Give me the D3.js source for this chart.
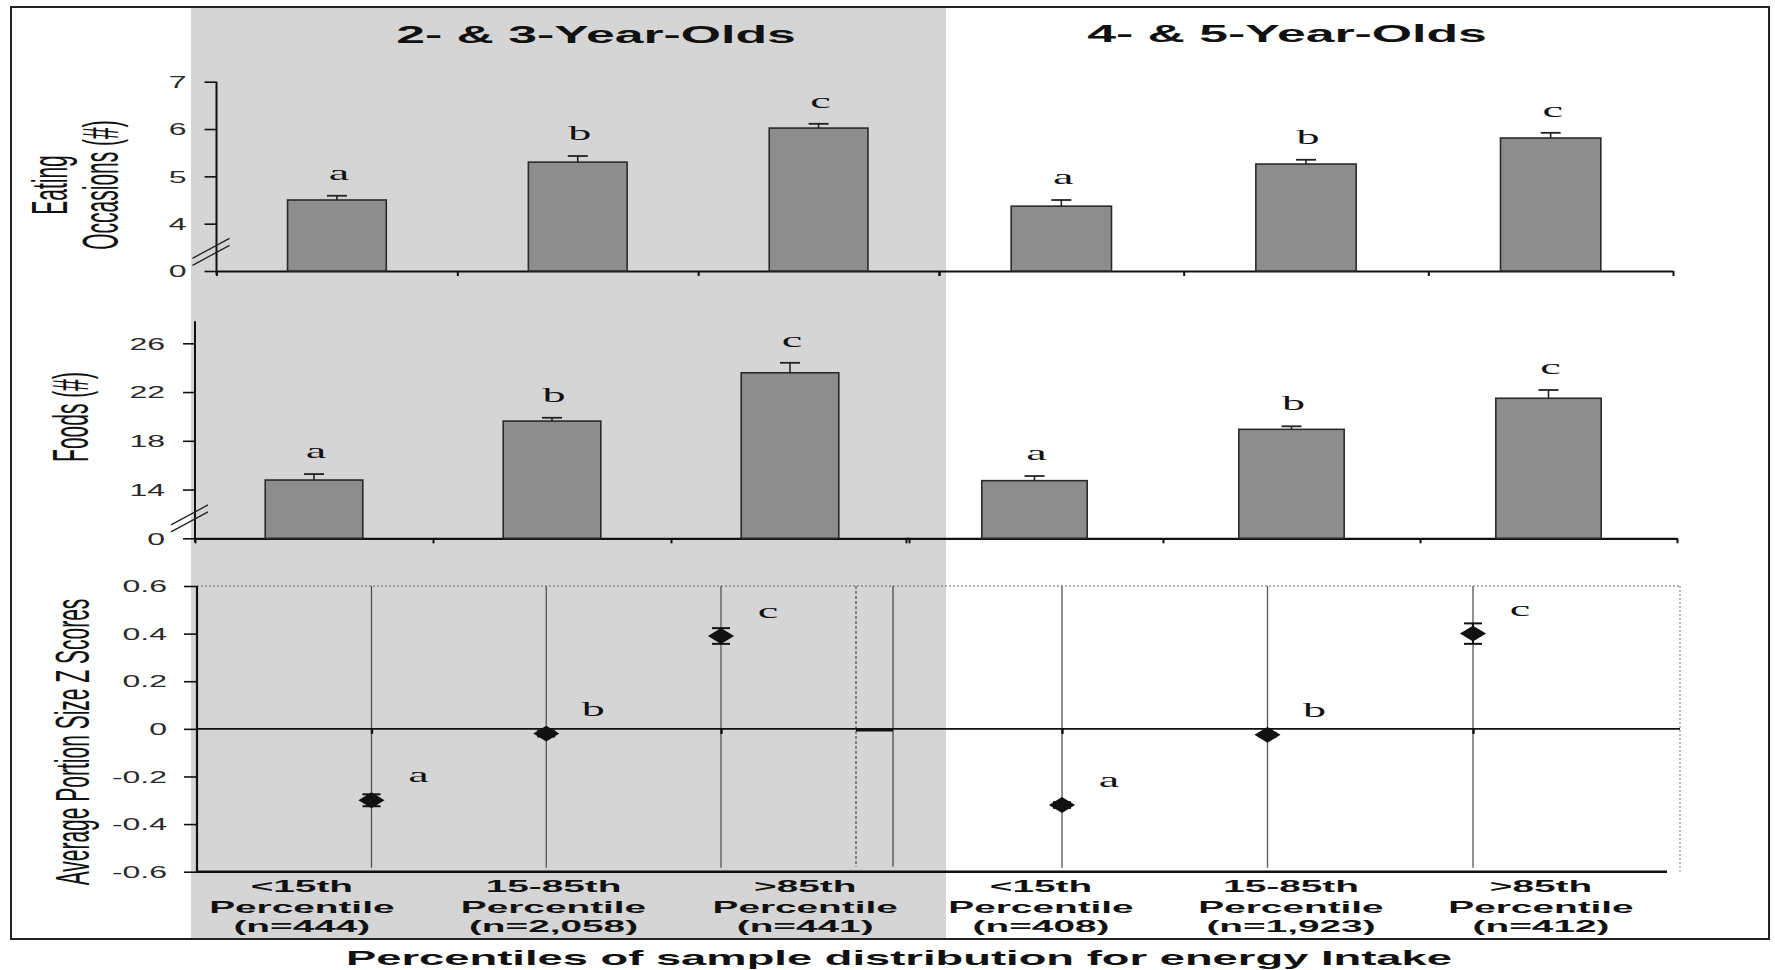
<!DOCTYPE html>
<html><head><meta charset="utf-8">
<script src="https://cdn.jsdelivr.net/npm/d3@7"></script>
<style>html,body{margin:0;padding:0;background:#fff;} svg{display:block}</style>
</head><body>
<svg id="chart" width="1775" height="970"></svg>
<script>
// ---------------- DATA ----------------
const groups = ["2- & 3-Year-Olds", "4- & 5-Year-Olds"];
const categories = ["<15th", "15-85th", ">85th"];
const catLine2 = "Percentile";
const nLabels23 = ["(n=444)", "(n=2,058)", "(n=441)"];
const nLabels45 = ["(n=408)", "(n=1,923)", "(n=412)"];
const sigLetters = ["a", "b", "c"];

const eating23 = [4.50, 5.30, 6.02];
const eatingErr23 = [0.09, 0.13, 0.09];
const eating45 = [4.37, 5.26, 5.81];
const eatingErr45 = [0.13, 0.09, 0.11];

const foods23 = [14.78, 19.62, 23.58];
const foodsErr23 = [0.49, 0.27, 0.82];
const foods45 = [14.73, 18.94, 21.49];
const foodsErr45 = [0.38, 0.25, 0.68];

const portion23 = [-0.30, -0.02, 0.39];
const portionErr23 = [0.025, 0.012, 0.033];
const portion45 = [-0.32, -0.025, 0.40];
const portionErr45 = [0.012, 0.008, 0.043];

const eatingTicks = [3, 4, 5, 6, 7];      // lowest tick is shown as "0" (broken axis)
const foodsTicks = [10, 14, 18, 22, 26];  // lowest tick is shown as "0" (broken axis)
const zTicks = [-0.6, -0.4, -0.2, 0, 0.2, 0.4, 0.6];
const yTitleEating = ["Eating", "Occasions (#)"];
const yTitleFoods = "Foods (#)";
const yTitleZ = "Average Portion Size Z Scores";
const xTitle = "Percentiles of sample distribution for energy Intake";

// ---------------- STYLE ----------------
const SANS = "'Liberation Sans', Arial, Helvetica, sans-serif";
const SERIF = "'Liberation Serif', 'Times New Roman', serif";
const INK = "#111";
const BAR_FILL = "#8d8d8d";
const SHADE = "#d5d5d5";

const svg = d3.select("#chart");

function sText(parent, x, y, txt, o) {
  const sx = o.sx ?? 2.2;
  return parent.append("text")
    .attr("transform", `translate(${x},${y}) scale(${sx},1)`)
    .attr("text-anchor", o.anchor || "middle")
    .attr("font-family", o.family || SANS)
    .attr("font-size", o.size)
    .attr("font-weight", o.weight || "normal")
    .attr("fill", o.fill || INK)
    .text(txt);
}
function vText(parent, x, y, txt, o) {
  const sy = o.sy ?? 2.0;
  return parent.append("text")
    .attr("transform", `translate(${x},${y}) rotate(-90) scale(1,${sy})`)
    .attr("text-anchor", "middle")
    .attr("font-family", o.family || SANS)
    .attr("font-size", o.size)
    .attr("font-weight", o.weight || "normal")
    .attr("fill", o.fill || INK)
    .text(txt);
}

// background shading for the 2-3 year-old half
svg.append("rect").attr("x", 191).attr("y", 7).attr("width", 755).attr("height", 932).attr("fill", SHADE);
// outer frame
svg.append("rect").attr("x", 11).attr("y", 7).attr("width", 1758).attr("height", 932)
  .attr("fill", "none").attr("stroke", "#222").attr("stroke-width", 2);

// titles
sText(svg, 596, 43, groups[0], {size: 23, weight: "bold", sx: 2.25});
sText(svg, 1287, 42, groups[1], {size: 23, weight: "bold", sx: 2.25});

// ---------------- bar panels ----------------
function styleTicks(axisG, offset) {
  axisG.select(".domain").remove();
  axisG.selectAll(".tick line").attr("stroke", INK).attr("stroke-width", 1.6);
  axisG.selectAll(".tick text")
    .attr("x", 0)
    .attr("dy", "0.36em")
    .attr("transform", `translate(${-offset},0) scale(2.0,1)`)
    .attr("font-family", SANS).attr("font-size", 16).attr("fill", "#2a2a2a");
}

function barPanel(cfg) {
  const g = svg.append("g");
  const y = cfg.y;
  const base = y.domain()[0];
  const baseY = y(base);

  // y axis
  const ya = g.append("g").attr("transform", `translate(${cfg.axisX},0)`)
    .call(d3.axisLeft(y).tickValues(cfg.ticks).tickSize(12).tickPadding(18)
      .tickFormat(d => d === base ? "0" : String(d)));
  styleTicks(ya, 30);
  g.append("line").attr("x1", cfg.axisX).attr("x2", cfg.axisX)
    .attr("y1", y(cfg.axisTop)).attr("y2", baseY + 4)
    .attr("stroke", INK).attr("stroke-width", 2);

  // axis break marks
  [0, 7].forEach(off => {
    const cy = y(cfg.breakVal) + off;
    g.append("line")
      .attr("x1", cfg.axisX - 24).attr("y1", cy + 11)
      .attr("x2", cfg.axisX + 13).attr("y2", cy - 9)
      .attr("stroke", "#222").attr("stroke-width", 1.3);
  });

  cfg.halves.forEach(h => {
    const xb = d3.scaleBand().domain(categories).range(h.range)
      .paddingInner(0.59).paddingOuter(0.295);
    const idx = d3.scaleLinear().domain([0, 3]).range(h.range);
    // x axis with ticks on category boundaries
    const xa = g.append("g").attr("transform", `translate(0,${baseY})`)
      .call(d3.axisBottom(idx).tickValues([0, 1, 2, 3]).tickSize(5).tickSizeOuter(0).tickFormat(""));
    xa.select(".domain").attr("stroke", INK).attr("stroke-width", 2.2);
    xa.selectAll(".tick line").attr("stroke", INK).attr("stroke-width", 2);

    const bars = g.append("g");
    bars.selectAll("rect").data(h.means).join("rect")
      .attr("x", (d, i) => xb(categories[i]))
      .attr("y", d => y(d))
      .attr("width", xb.bandwidth())
      .attr("height", d => baseY - y(d))
      .attr("fill", BAR_FILL).attr("stroke", "#2a2a2a").attr("stroke-width", 1.6);

    h.means.forEach((m, i) => {
      const cx = xb(categories[i]) + xb.bandwidth() / 2;
      const top = y(m + h.errs[i]);
      g.append("line").attr("x1", cx).attr("x2", cx).attr("y1", y(m)).attr("y2", top)
        .attr("stroke", "#222").attr("stroke-width", 1.6);
      g.append("line").attr("x1", cx - 10).attr("x2", cx + 10).attr("y1", top).attr("y2", top)
        .attr("stroke", "#222").attr("stroke-width", 1.8);
      sText(g, cx + 2, top - 16, sigLetters[i], {size: 22, family: SERIF, sx: 2.1});
    });
  });
}

barPanel({
  y: d3.scaleLinear().domain([3, 7]).range([271, 81.7]),
  ticks: eatingTicks, axisX: 216.5, axisTop: 7, breakVal: 3.5,
  halves: [
    {range: [216.5, 939], means: eating23, errs: eatingErr23},
    {range: [939, 1673], means: eating45, errs: eatingErr45}
  ]
});
barPanel({
  y: d3.scaleLinear().domain([10, 26]).range([538.3, 343.3]),
  ticks: foodsTicks, axisX: 195, axisTop: 27.8, breakVal: 12,
  halves: [
    {range: [195, 909], means: foods23, errs: foodsErr23},
    {range: [906, 1677], means: foods45, errs: foodsErr45}
  ]
});

// ---------------- Z score panel ----------------
(function () {
  const g = svg.append("g");
  const y = d3.scaleLinear().domain([-0.6, 0.6]).range([871.7, 586]);
  const x0 = 197, x1 = 1680;
  const halves = [
    {pts: [371.5, 721], labs: [176, 931], vals: portion23, errs: portionErr23, ns: nLabels23},
    {pts: [1062, 1473], labs: [916, 1666], vals: portion45, errs: portionErr45, ns: nLabels45}
  ];
  // top dotted border and right dotted border
  g.append("line").attr("x1", x0).attr("x2", x1).attr("y1", y(0.6)).attr("y2", y(0.6))
    .attr("stroke", "#666").attr("stroke-width", 1.2).attr("stroke-dasharray", "2,2");
  g.append("line").attr("x1", x1).attr("x2", x1).attr("y1", y(0.6)).attr("y2", y(-0.6))
    .attr("stroke", "#888").attr("stroke-width", 1.1).attr("stroke-dasharray", "2,2");
  // separating lines at the end of the left half
  g.append("line").attr("x1", 856).attr("x2", 856).attr("y1", y(0.6)).attr("y2", y(-0.6) - 5)
    .attr("stroke", "#555").attr("stroke-width", 1.3).attr("stroke-dasharray", "3,2");
  g.append("line").attr("x1", 893).attr("x2", 893).attr("y1", y(0.6)).attr("y2", y(-0.6) - 5)
    .attr("stroke", "#555").attr("stroke-width", 1.4);

  halves.forEach(h => {
    const xp = d3.scalePoint().domain(categories).range(h.pts);
    categories.forEach(c => {
      g.append("line").attr("x1", xp(c)).attr("x2", xp(c)).attr("y1", y(0.6)).attr("y2", y(-0.6) - 4)
        .attr("stroke", "#555").attr("stroke-width", 1.3);
    });
    const za = g.append("g").attr("transform", `translate(0,${y(0)})`)
      .call(d3.axisBottom(xp).tickSize(5).tickSizeOuter(0).tickFormat(""));
    za.select(".domain").remove();
    za.selectAll(".tick line").attr("stroke", INK).attr("stroke-width", 2.4);
  });

  // zero line and bottom axis
  g.append("line").attr("x1", x0).attr("x2", x1).attr("y1", y(0)).attr("y2", y(0))
    .attr("stroke", INK).attr("stroke-width", 1.8);
  g.append("line").attr("x1", 856).attr("x2", 893).attr("y1", y(0) + 1).attr("y2", y(0) + 1)
    .attr("stroke", INK).attr("stroke-width", 3.5);
  g.append("line").attr("x1", x0).attr("x2", 1667).attr("y1", y(-0.6)).attr("y2", y(-0.6))
    .attr("stroke", INK).attr("stroke-width", 2.6);

  // y axis
  const ya = g.append("g").attr("transform", `translate(${x0},0)`)
    .call(d3.axisLeft(y).tickValues(zTicks).tickSize(13).tickPadding(17)
      .tickFormat(d => d === 0 ? "0" : (d < 0 ? "-" : "") + Math.abs(d).toFixed(1)));
  styleTicks(ya, 30);
  g.append("line").attr("x1", x0).attr("x2", x0).attr("y1", y(0.6)).attr("y2", y(-0.6) + 1)
    .attr("stroke", INK).attr("stroke-width", 2.2);

  const diamond = d3.symbol(d3.symbolDiamond2).size(160)();
  halves.forEach(h => {
    const xp = d3.scalePoint().domain(categories).range(h.pts);
    h.vals.forEach((v, i) => {
      const cx = xp(categories[i]);
      const lo = y(v - h.errs[i]), hi = y(v + h.errs[i]);
      g.append("line").attr("x1", cx).attr("x2", cx).attr("y1", lo).attr("y2", hi)
        .attr("stroke", INK).attr("stroke-width", 2);
      [lo, hi].forEach(yy => g.append("line").attr("x1", cx - 9).attr("x2", cx + 9)
        .attr("y1", yy).attr("y2", yy).attr("stroke", INK).attr("stroke-width", 2));
      g.append("path").attr("d", diamond)
        .attr("transform", `translate(${cx},${y(v)}) scale(1.65,1)`)
        .attr("fill", INK);
      sText(g, cx + 47, y(v) - 18, sigLetters[i], {size: 22, family: SERIF, sx: 2.1});
    });
    // category labels
    const xl = d3.scaleBand().domain(categories).range(h.labs);
    categories.forEach((c, i) => {
      const cx = xl(c) + xl.bandwidth() / 2;
      sText(svg, cx, 891.5, c, {size: 16.5, weight: "bold", sx: 2.35});
      sText(svg, cx, 912.5, catLine2, {size: 16.5, weight: "bold", sx: 2.35});
      sText(svg, cx, 932, h.ns[i], {size: 16.5, weight: "bold", sx: 2.35});
    });
  });
})();

// ---------------- axis titles ----------------
vText(svg, 67, 185, yTitleEating[0], {size: 21, sy: 2.4});
vText(svg, 118, 185, yTitleEating[1], {size: 21, sy: 2.4});
vText(svg, 88, 417, yTitleFoods, {size: 21, sy: 2.4});
vText(svg, 89, 742, yTitleZ, {size: 21, sy: 2.3});
sText(svg, 899, 965, xTitle, {size: 21, weight: "bold", sx: 2.16});
</script>
</body></html>
